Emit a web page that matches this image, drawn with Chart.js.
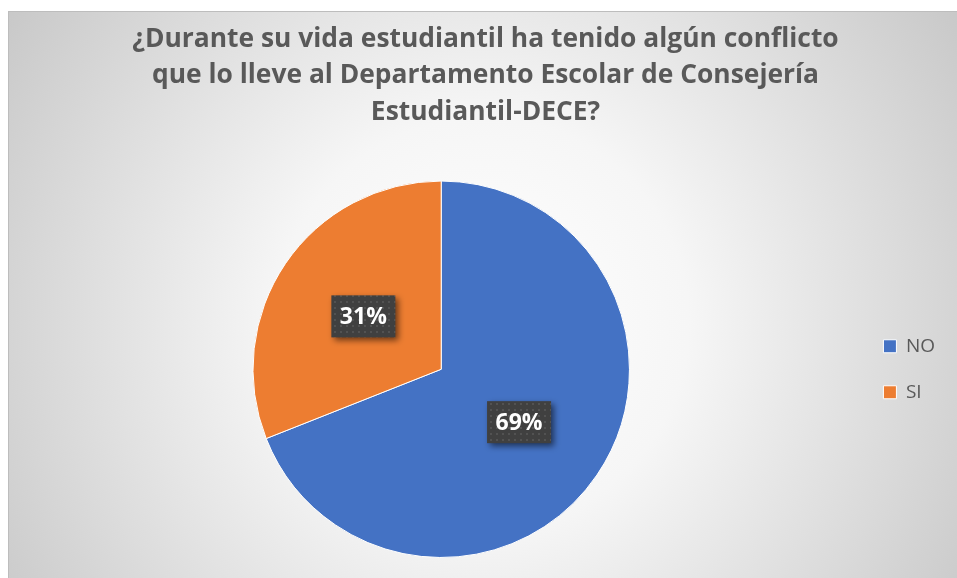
<!DOCTYPE html>
<html>
<head>
<meta charset="utf-8">
<script src="https://cdn.jsdelivr.net/npm/chart.js@4"></script>
<style>
  html, body { margin: 0; padding: 0; background: #fff; }
  #wrap { position: absolute; left: 8px; top: 11px; width: 949px; height: 567px; border-top: 1px solid #bdbdbd; border-left: 1px solid #bdbdbd; box-sizing: border-box; }
</style>
</head>
<body>
<div id="wrap"><canvas id="myChart"></canvas></div>
<script>
const titleLines = [
  '¿Durante su vida estudiantil ha tenido algún conflicto',
  'que lo lleve al Departamento Escolar de Consejería',
  'Estudiantil-DECE?'
];
const labels = ['NO', 'SI'];
const values = [69, 31];
const colors = ['#4472C4', '#ED7D31'];

const ctx = document.getElementById('myChart');

// dotted dark pattern for the value boxes
const tile = document.createElement('canvas');
tile.width = 6; tile.height = 6;
const tctx = tile.getContext('2d');
tctx.fillStyle = '#404040';
tctx.fillRect(0, 0, 6, 6);
tctx.fillStyle = '#525252';
tctx.fillRect(1, 1, 2, 2);

const background = {
  id: 'bgGradient',
  beforeDraw: (chart) => {
    const {ctx, width, height} = chart;
    const g = ctx.createRadialGradient(width * 0.5, height * 0.55, 0, width * 0.5, height * 0.55, width * 0.62);
    g.addColorStop(0, '#ffffff');
    g.addColorStop(0.35, '#f6f6f6');
    g.addColorStop(1, '#c6c6c6');
    ctx.save();
    ctx.fillStyle = g;
    ctx.fillRect(0, 0, width, height);
    ctx.restore();
  }
};

const valueBoxes = {
  id: 'valueBoxes',
  afterDatasetsDraw: (chart) => {
    const {ctx} = chart;
    const meta = chart.getDatasetMeta(0);
    const total = values.reduce((a, b) => a + b, 0);
    ctx.save();
    meta.data.forEach((arc, i) => {
      const p = arc.getCenterPoint();
      const w = 64, h = 42;
      ctx.shadowColor = 'rgba(0,0,0,0.55)';
      ctx.shadowBlur = 6;
      ctx.shadowOffsetX = 3;
      ctx.shadowOffsetY = 3;
      ctx.fillStyle = ctx.createPattern(tile, 'repeat');
      ctx.fillRect(p.x - w / 2, p.y - h / 2, w, h);
      ctx.shadowColor = 'transparent';
      ctx.fillStyle = '#ffffff';
      ctx.font = 'bold 23px "Open Sans"';
      ctx.textAlign = 'center';
      ctx.textBaseline = 'middle';
      ctx.fillText(Math.round(values[i] / total * 100) + '%', p.x, p.y + 1);
    });
    ctx.restore();
  }
};

new Chart(ctx, {
  type: 'pie',
  data: {
    labels: labels,
    datasets: [{
      data: values,
      backgroundColor: colors,
      borderColor: '#ffffff',
      borderWidth: 1
    }]
  },
  options: {
    responsive: true,
    maintainAspectRatio: false,
    animation: false,
    layout: { padding: { left: 17, right: 12, top: 0, bottom: 20 } },
    plugins: {
      title: {
        display: true,
        text: titleLines,
        color: '#595959',
        font: { family: 'Open Sans', size: 26.4, weight: 'bold', lineHeight: 1.383 },
        padding: { top: 9, bottom: 50 }
      },
      legend: {
        position: 'right',
        fullSize: false,
        labels: {
          color: '#595959',
          font: { family: 'Open Sans', size: 19 },
          boxWidth: 13,
          boxHeight: 13,
          padding: 27
        }
      },
      tooltip: { enabled: false }
    }
  },
  plugins: [background, valueBoxes]
});
</script>
</body>
</html>
